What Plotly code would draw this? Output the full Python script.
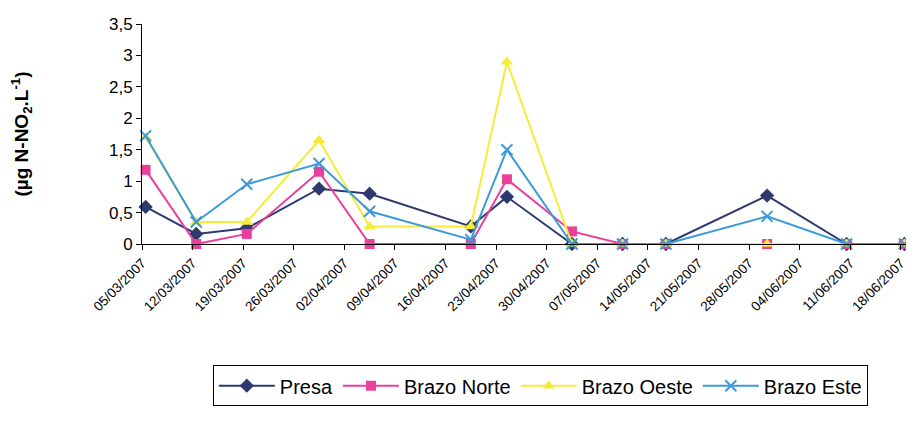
import pandas as pd
import plotly.graph_objects as go

dates = ["2007-03-05", "2007-03-12", "2007-03-19", "2007-03-29", "2007-04-05",
         "2007-04-19", "2007-04-24", "2007-05-03", "2007-05-10", "2007-05-16",
         "2007-05-30", "2007-06-10", "2007-06-18"]

presa = [0.59, 0.16, 0.25, 0.88, 0.80, 0.28, 0.75, 0, 0, 0, 0.77, 0, 0]
brazo_norte = [1.18, 0, 0.16, 1.15, 0, 0, 1.03, 0.20, 0, 0, 0, 0, 0]
brazo_oeste = [1.70, 0.35, 0.35, 1.65, 0.28, 0.28, 2.90, 0, 0, 0, 0, 0, 0]
brazo_este = [1.72, 0.35, 0.95, 1.28, 0.52, 0.07, 1.50, 0, 0, 0, 0.44, 0, 0]

series_names = ["Presa", "Brazo Norte", "Brazo Oeste", "Brazo Este"]

# Excel date axis draws each point in the middle of its day
x = pd.to_datetime(dates) + pd.Timedelta(hours=12)

styles = [
    dict(color="#2e3a6e", symbol="diamond", size=11, lw=0),
    dict(color="#e8409c", symbol="square", size=10, lw=0),
    dict(color="#f5ec3a", symbol="triangle-up", size=11, lw=0),
    dict(color="#3d9ad8", symbol="x-thin", size=11, lw=2),
]

fig = go.Figure()
for name, vals, st in zip(series_names, [presa, brazo_norte, brazo_oeste, brazo_este], styles):
    fig.add_trace(go.Scatter(
        x=x, y=vals, name=name, mode="lines+markers", cliponaxis=False,
        line=dict(color=st["color"], width=2),
        marker=dict(symbol=st["symbol"], size=st["size"], color=st["color"],
                    line=dict(color=st["color"], width=st["lw"])),
    ))

font_family = "Liberation Sans, Arial, sans-serif"
# the page body has an 8px margin, so the figure is sized to fit inside the window
fig.update_layout(
    width=906, height=414,
    margin=dict(l=134, r=6, t=16, b=177.5),
    paper_bgcolor="white", plot_bgcolor="white",
    separators=",.",
    font=dict(family=font_family, color="black"),
    showlegend=True,
    legend=dict(
        orientation="h", x=0.52, xanchor="center", y=-0.551, yanchor="top",
        bordercolor="black", borderwidth=1, font=dict(size=20, family=font_family),
        itemwidth=56, tracegroupgap=0,
    ),
    xaxis=dict(
        type="date",
        range=["2007-03-05", "2007-06-19"],
        tick0="2007-03-05", dtick=7 * 24 * 3600 * 1000,
        tickformat="%d/%m/%Y", tickangle=-45,
        tickfont=dict(size=13.5), ticks="outside", ticklen=5, tickcolor="black",
        showline=True, linecolor="black", linewidth=1,
        showgrid=False, zeroline=False,
    ),
    yaxis=dict(
        range=[0, 3.5], dtick=0.5, tick0=0,
        tickfont=dict(size=17), ticks="outside", ticklen=5, tickcolor="black",
        showline=True, linecolor="black", linewidth=1,
        showgrid=False, zeroline=False,
        title=dict(text="<b>(µg N-NO<sub>2</sub>.L<sup>-1</sup>)</b>",
                   font=dict(size=19), standoff=78),
    ),
)

fig.write_html("out.html")
